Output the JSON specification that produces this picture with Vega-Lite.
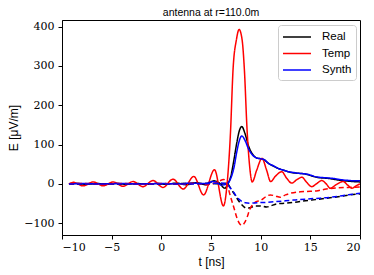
{
"$schema": "https://vega.github.io/schema/vega-lite/v6.json",
"width": 298, "height": 215,
"autosize": {"type": "none"},
"padding": {"left": 62, "top": 20, "right": 14, "bottom": 40},
"background": "white",
"title": {"text": "antenna at r=110.0m", "fontSize": 10.5, "font": "Liberation Sans", "fontWeight": "normal", "color": "black", "offset": 2},
"config": {
  "view": {"stroke": "black", "strokeWidth": 1},
  "axis": {"labelFont": "DejaVu Serif", "labelFontSize": 11, "labelColor": "black", "tickColor": "black", "domainColor": "black", "tickSize": 4, "grid": false, "titleFont": "Liberation Sans", "titleFontSize": 12, "titleFontWeight": "normal", "titleColor": "black"}
},
"data": {"values": [
{"t":-9.3,"E":0,"s":"Real","p":"solid"},{"t":-8.5,"E":1,"s":"Real","p":"solid"},{"t":-7.5,"E":-1,"s":"Real","p":"solid"},{"t":-6.5,"E":1,"s":"Real","p":"solid"},{"t":-5.5,"E":-1,"s":"Real","p":"solid"},{"t":-4.5,"E":1,"s":"Real","p":"solid"},{"t":-3.5,"E":-1,"s":"Real","p":"solid"},{"t":-2.5,"E":1,"s":"Real","p":"solid"},{"t":-1.5,"E":-1,"s":"Real","p":"solid"},{"t":-0.5,"E":1,"s":"Real","p":"solid"},{"t":0.5,"E":-1,"s":"Real","p":"solid"},{"t":1.5,"E":2,"s":"Real","p":"solid"},{"t":2.5,"E":-2,"s":"Real","p":"solid"},{"t":3.5,"E":3,"s":"Real","p":"solid"},{"t":4.5,"E":-2,"s":"Real","p":"solid"},{"t":5.3,"E":8,"s":"Real","p":"solid"},{"t":5.8,"E":3,"s":"Real","p":"solid"},{"t":6.4,"E":-11,"s":"Real","p":"solid"},{"t":6.7,"E":0,"s":"Real","p":"solid"},{"t":7.0,"E":20,"s":"Real","p":"solid"},{"t":7.3,"E":60,"s":"Real","p":"solid"},{"t":7.6,"E":105,"s":"Real","p":"solid"},{"t":7.85,"E":135,"s":"Real","p":"solid"},{"t":8.1,"E":146,"s":"Real","p":"solid"},{"t":8.4,"E":130,"s":"Real","p":"solid"},{"t":8.8,"E":95,"s":"Real","p":"solid"},{"t":9.2,"E":75,"s":"Real","p":"solid"},{"t":9.6,"E":66,"s":"Real","p":"solid"},{"t":10.0,"E":64,"s":"Real","p":"solid"},{"t":10.3,"E":62,"s":"Real","p":"solid"},{"t":10.8,"E":52,"s":"Real","p":"solid"},{"t":11.3,"E":45,"s":"Real","p":"solid"},{"t":11.8,"E":39,"s":"Real","p":"solid"},{"t":12.3,"E":35,"s":"Real","p":"solid"},{"t":12.8,"E":31,"s":"Real","p":"solid"},{"t":13.3,"E":28,"s":"Real","p":"solid"},{"t":13.8,"E":27,"s":"Real","p":"solid"},{"t":14.3,"E":26,"s":"Real","p":"solid"},{"t":14.8,"E":23,"s":"Real","p":"solid"},{"t":15.3,"E":19,"s":"Real","p":"solid"},{"t":15.8,"E":16,"s":"Real","p":"solid"},{"t":16.3,"E":15,"s":"Real","p":"solid"},{"t":16.8,"E":14,"s":"Real","p":"solid"},{"t":17.3,"E":12,"s":"Real","p":"solid"},{"t":17.8,"E":10,"s":"Real","p":"solid"},{"t":18.3,"E":8,"s":"Real","p":"solid"},{"t":18.8,"E":7,"s":"Real","p":"solid"},{"t":19.3,"E":6,"s":"Real","p":"solid"},{"t":20,"E":5,"s":"Real","p":"solid"},
{"t":-9.3,"E":0,"s":"Temp","p":"solid"},{"t":-8.87,"E":4,"s":"Temp","p":"solid"},{"t":-7.87,"E":-5,"s":"Temp","p":"solid"},{"t":-6.86,"E":5,"s":"Temp","p":"solid"},{"t":-5.86,"E":-5,"s":"Temp","p":"solid"},{"t":-4.85,"E":5,"s":"Temp","p":"solid"},{"t":-3.85,"E":-6,"s":"Temp","p":"solid"},{"t":-2.85,"E":6,"s":"Temp","p":"solid"},{"t":-1.85,"E":-7,"s":"Temp","p":"solid"},{"t":-0.84,"E":8.5,"s":"Temp","p":"solid"},{"t":0.17,"E":-9,"s":"Temp","p":"solid"},{"t":1.17,"E":12,"s":"Temp","p":"solid"},{"t":2.2,"E":-13,"s":"Temp","p":"solid"},{"t":3.27,"E":19,"s":"Temp","p":"solid"},{"t":4.25,"E":-28,"s":"Temp","p":"solid"},{"t":5.35,"E":36,"s":"Temp","p":"solid"},{"t":6.25,"E":-56,"s":"Temp","p":"solid"},{"t":6.62,"E":0,"s":"Temp","p":"solid"},{"t":6.96,"E":130,"s":"Temp","p":"solid"},{"t":7.22,"E":291,"s":"Temp","p":"solid"},{"t":7.56,"E":367,"s":"Temp","p":"solid"},{"t":7.83,"E":393,"s":"Temp","p":"solid"},{"t":8.13,"E":367,"s":"Temp","p":"solid"},{"t":8.36,"E":291,"s":"Temp","p":"solid"},{"t":8.63,"E":138,"s":"Temp","p":"solid"},{"t":8.86,"E":53,"s":"Temp","p":"solid"},{"t":9.15,"E":5,"s":"Temp","p":"solid"},{"t":9.6,"E":35,"s":"Temp","p":"solid"},{"t":10.13,"E":65,"s":"Temp","p":"solid"},{"t":10.6,"E":35,"s":"Temp","p":"solid"},{"t":11.0,"E":6,"s":"Temp","p":"solid"},{"t":11.5,"E":20,"s":"Temp","p":"solid"},{"t":12.13,"E":31,"s":"Temp","p":"solid"},{"t":12.6,"E":15,"s":"Temp","p":"solid"},{"t":13.14,"E":2,"s":"Temp","p":"solid"},{"t":13.6,"E":10,"s":"Temp","p":"solid"},{"t":14.15,"E":17,"s":"Temp","p":"solid"},{"t":14.6,"E":5,"s":"Temp","p":"solid"},{"t":15.15,"E":-7,"s":"Temp","p":"solid"},{"t":15.6,"E":0,"s":"Temp","p":"solid"},{"t":16.15,"E":8.5,"s":"Temp","p":"solid"},{"t":16.6,"E":0,"s":"Temp","p":"solid"},{"t":17.0,"E":-11,"s":"Temp","p":"solid"},{"t":17.6,"E":-2,"s":"Temp","p":"solid"},{"t":18.3,"E":6,"s":"Temp","p":"solid"},{"t":18.8,"E":-4,"s":"Temp","p":"solid"},{"t":19.2,"E":-11,"s":"Temp","p":"solid"},{"t":19.6,"E":-5,"s":"Temp","p":"solid"},{"t":20,"E":0,"s":"Temp","p":"solid"},
{"t":-9.3,"E":0,"s":"Synth","p":"solid"},{"t":-8,"E":1,"s":"Synth","p":"solid"},{"t":-6,"E":0,"s":"Synth","p":"solid"},{"t":-4,"E":1,"s":"Synth","p":"solid"},{"t":-2,"E":0,"s":"Synth","p":"solid"},{"t":0,"E":1,"s":"Synth","p":"solid"},{"t":1.5,"E":0,"s":"Synth","p":"solid"},{"t":3,"E":2,"s":"Synth","p":"solid"},{"t":4.3,"E":1,"s":"Synth","p":"solid"},{"t":5.3,"E":6,"s":"Synth","p":"solid"},{"t":6.1,"E":-3,"s":"Synth","p":"solid"},{"t":6.7,"E":2,"s":"Synth","p":"solid"},{"t":7.0,"E":15,"s":"Synth","p":"solid"},{"t":7.3,"E":40,"s":"Synth","p":"solid"},{"t":7.6,"E":82,"s":"Synth","p":"solid"},{"t":7.85,"E":110,"s":"Synth","p":"solid"},{"t":8.1,"E":122,"s":"Synth","p":"solid"},{"t":8.4,"E":112,"s":"Synth","p":"solid"},{"t":8.8,"E":88,"s":"Synth","p":"solid"},{"t":9.2,"E":73,"s":"Synth","p":"solid"},{"t":9.6,"E":66,"s":"Synth","p":"solid"},{"t":10.0,"E":64,"s":"Synth","p":"solid"},{"t":10.4,"E":61,"s":"Synth","p":"solid"},{"t":10.8,"E":52,"s":"Synth","p":"solid"},{"t":11.3,"E":46,"s":"Synth","p":"solid"},{"t":11.8,"E":39,"s":"Synth","p":"solid"},{"t":12.3,"E":35,"s":"Synth","p":"solid"},{"t":12.8,"E":31,"s":"Synth","p":"solid"},{"t":13.3,"E":29,"s":"Synth","p":"solid"},{"t":13.8,"E":27,"s":"Synth","p":"solid"},{"t":14.3,"E":26,"s":"Synth","p":"solid"},{"t":14.8,"E":24,"s":"Synth","p":"solid"},{"t":15.3,"E":20,"s":"Synth","p":"solid"},{"t":15.8,"E":17,"s":"Synth","p":"solid"},{"t":16.3,"E":16,"s":"Synth","p":"solid"},{"t":16.8,"E":15,"s":"Synth","p":"solid"},{"t":17.3,"E":14,"s":"Synth","p":"solid"},{"t":17.8,"E":12,"s":"Synth","p":"solid"},{"t":18.3,"E":10,"s":"Synth","p":"solid"},{"t":18.8,"E":9,"s":"Synth","p":"solid"},{"t":19.3,"E":8,"s":"Synth","p":"solid"},{"t":20,"E":8,"s":"Synth","p":"solid"},
{"t":-9.3,"E":0,"s":"Real","p":"dashed"},{"t":-6,"E":0,"s":"Real","p":"dashed"},{"t":-3,"E":0,"s":"Real","p":"dashed"},{"t":0,"E":0,"s":"Real","p":"dashed"},{"t":3,"E":1,"s":"Real","p":"dashed"},{"t":5,"E":1,"s":"Real","p":"dashed"},{"t":6,"E":0,"s":"Real","p":"dashed"},{"t":6.6,"E":2,"s":"Real","p":"dashed"},{"t":7.0,"E":-12,"s":"Real","p":"dashed"},{"t":7.3,"E":-24,"s":"Real","p":"dashed"},{"t":7.96,"E":-49,"s":"Real","p":"dashed"},{"t":8.3,"E":-58,"s":"Real","p":"dashed"},{"t":8.6,"E":-62,"s":"Real","p":"dashed"},{"t":9.0,"E":-60,"s":"Real","p":"dashed"},{"t":9.5,"E":-56,"s":"Real","p":"dashed"},{"t":9.97,"E":-56,"s":"Real","p":"dashed"},{"t":10.6,"E":-59,"s":"Real","p":"dashed"},{"t":11.0,"E":-56,"s":"Real","p":"dashed"},{"t":11.6,"E":-51,"s":"Real","p":"dashed"},{"t":12.5,"E":-49,"s":"Real","p":"dashed"},{"t":13.3,"E":-47,"s":"Real","p":"dashed"},{"t":14.5,"E":-43,"s":"Real","p":"dashed"},{"t":15.5,"E":-40,"s":"Real","p":"dashed"},{"t":16.65,"E":-36.5,"s":"Real","p":"dashed"},{"t":18,"E":-32,"s":"Real","p":"dashed"},{"t":19,"E":-28,"s":"Real","p":"dashed"},{"t":20,"E":-25.5,"s":"Real","p":"dashed"},
{"t":-9.3,"E":0,"s":"Temp","p":"dashed"},{"t":-8,"E":1,"s":"Temp","p":"dashed"},{"t":-6,"E":-1,"s":"Temp","p":"dashed"},{"t":-4,"E":1,"s":"Temp","p":"dashed"},{"t":-2,"E":-1,"s":"Temp","p":"dashed"},{"t":0,"E":1,"s":"Temp","p":"dashed"},{"t":2,"E":-1,"s":"Temp","p":"dashed"},{"t":3.5,"E":2,"s":"Temp","p":"dashed"},{"t":4.5,"E":-2,"s":"Temp","p":"dashed"},{"t":5.5,"E":3,"s":"Temp","p":"dashed"},{"t":6.3,"E":11,"s":"Temp","p":"dashed"},{"t":6.6,"E":0,"s":"Temp","p":"dashed"},{"t":6.96,"E":-32,"s":"Temp","p":"dashed"},{"t":7.3,"E":-60,"s":"Temp","p":"dashed"},{"t":7.63,"E":-88,"s":"Temp","p":"dashed"},{"t":7.9,"E":-102,"s":"Temp","p":"dashed"},{"t":8.13,"E":-105,"s":"Temp","p":"dashed"},{"t":8.4,"E":-98,"s":"Temp","p":"dashed"},{"t":8.63,"E":-85,"s":"Temp","p":"dashed"},{"t":8.9,"E":-65,"s":"Temp","p":"dashed"},{"t":9.13,"E":-55,"s":"Temp","p":"dashed"},{"t":9.5,"E":-46,"s":"Temp","p":"dashed"},{"t":10.0,"E":-42,"s":"Temp","p":"dashed"},{"t":10.5,"E":-33,"s":"Temp","p":"dashed"},{"t":10.97,"E":-28,"s":"Temp","p":"dashed"},{"t":11.5,"E":-31,"s":"Temp","p":"dashed"},{"t":11.97,"E":-34,"s":"Temp","p":"dashed"},{"t":12.5,"E":-28,"s":"Temp","p":"dashed"},{"t":12.97,"E":-24,"s":"Temp","p":"dashed"},{"t":14,"E":-20,"s":"Temp","p":"dashed"},{"t":15,"E":-19,"s":"Temp","p":"dashed"},{"t":15.6,"E":-18,"s":"Temp","p":"dashed"},{"t":16.6,"E":-13,"s":"Temp","p":"dashed"},{"t":17.3,"E":-11,"s":"Temp","p":"dashed"},{"t":18.8,"E":-9,"s":"Temp","p":"dashed"},{"t":20,"E":-8,"s":"Temp","p":"dashed"},
{"t":-9.3,"E":0,"s":"Synth","p":"dashed"},{"t":-3,"E":0,"s":"Synth","p":"dashed"},{"t":3,"E":0,"s":"Synth","p":"dashed"},{"t":5,"E":1,"s":"Synth","p":"dashed"},{"t":6.0,"E":2,"s":"Synth","p":"dashed"},{"t":6.6,"E":0,"s":"Synth","p":"dashed"},{"t":6.96,"E":-11,"s":"Synth","p":"dashed"},{"t":7.3,"E":-22,"s":"Synth","p":"dashed"},{"t":7.63,"E":-34,"s":"Synth","p":"dashed"},{"t":7.96,"E":-42,"s":"Synth","p":"dashed"},{"t":8.46,"E":-48,"s":"Synth","p":"dashed"},{"t":9.0,"E":-49,"s":"Synth","p":"dashed"},{"t":9.63,"E":-48,"s":"Synth","p":"dashed"},{"t":10.5,"E":-47,"s":"Synth","p":"dashed"},{"t":11.6,"E":-45,"s":"Synth","p":"dashed"},{"t":12.5,"E":-43,"s":"Synth","p":"dashed"},{"t":13.3,"E":-41,"s":"Synth","p":"dashed"},{"t":14.5,"E":-39,"s":"Synth","p":"dashed"},{"t":15.5,"E":-37,"s":"Synth","p":"dashed"},{"t":16.65,"E":-35,"s":"Synth","p":"dashed"},{"t":18,"E":-31,"s":"Synth","p":"dashed"},{"t":19,"E":-27,"s":"Synth","p":"dashed"},{"t":20,"E":-24,"s":"Synth","p":"dashed"}
]},
"mark": {"type": "line", "strokeWidth": 1.5, "interpolate": "monotone", "clip": true},
"encoding": {
  "x": {"field": "t", "type": "quantitative", "scale": {"domain": [-10, 20], "nice": false}, "axis": {"title": "t [ns]", "values": [-10, -5, 0, 5, 10, 15, 20], "labelPadding": 2, "titlePadding": 4}},
  "y": {"field": "E", "type": "quantitative", "scale": {"domain": [-130, 417], "nice": false, "zero": false}, "axis": {"title": "E [μV/m]", "values": [-100, 0, 100, 200, 300, 400], "labelPadding": 4, "titlePadding": 3}},
  "color": {"field": "s", "type": "nominal", "sort": ["Real", "Temp", "Synth"], "scale": {"domain": ["Real", "Temp", "Synth"], "range": ["#000000", "#ff0000", "#0000ff"]},
    "legend": {"title": null, "orient": "none", "legendX": 216, "legendY": 5, "strokeColor": "#cccccc", "fillColor": "white", "cornerRadius": 3, "padding": 4, "symbolType": "M-1,0L3,0", "symbolSize": 196, "symbolStrokeWidth": 1.5, "symbolFillColor": "transparent", "labelFont": "Liberation Sans", "labelFontSize": 11.5, "labelColor": "black", "labelOffset": 24, "rowPadding": 2.5}},
  "strokeDash": {"field": "p", "type": "nominal", "scale": {"domain": ["solid", "dashed"], "range": [[1, 0], [5, 3]]}, "legend": null}
}
}
